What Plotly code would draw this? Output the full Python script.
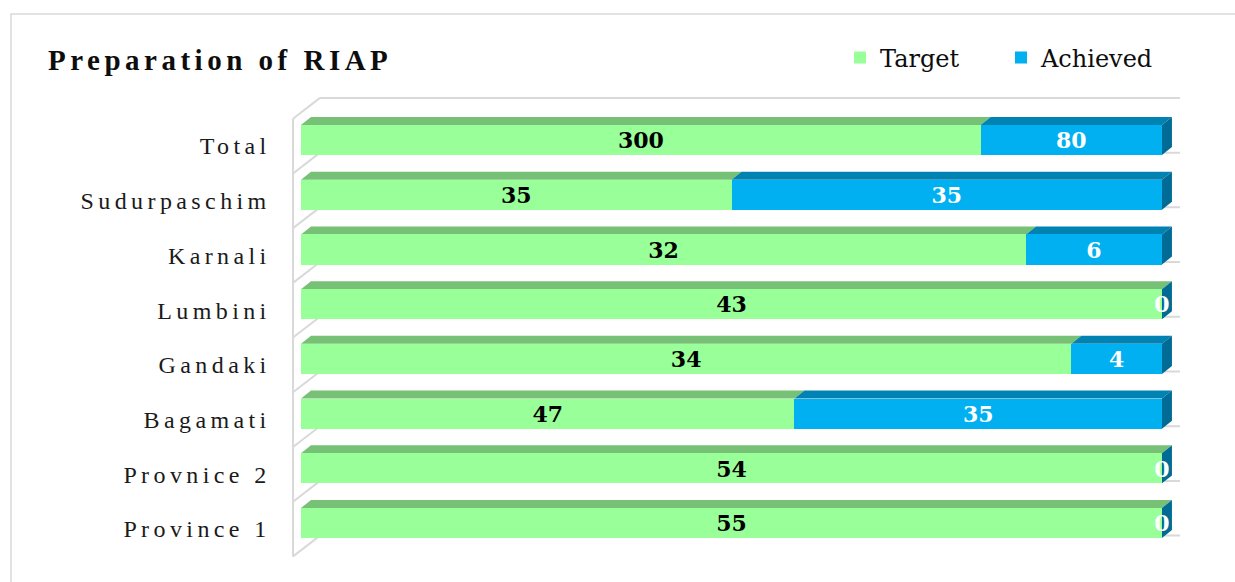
import plotly.graph_objects as go

# ---------------- data ----------------
categories = ["Province 1", "Provnice 2", "Bagamati", "Gandaki",
              "Lumbini", "Karnali", "Sudurpaschim", "Total"]
target = [55, 54, 47, 34, 43, 32, 35, 300]
achieved = [0, 0, 35, 4, 0, 6, 35, 80]
series_names = ["Target", "Achieved"]
title_text = "Preparation of RIAP"

# ---------------- styling ----------------
W, H = 1235, 582
GREEN, GREEN_TOP = "#99FF99", "#77C177"
BLUE, BLUE_TOP, BLUE_SIDE = "#00B0F0", "#0082B2", "#006C96"
WALL = "#D9D9D9"
BAR_W = 0.55
DX, DY = 1.16, 0.146          # 3-D depth offset (x in %, y in category units)
LABEL_DROP = 0.05             # small vertical nudge of data labels

# 100 % stacked shares computed from the values
totals = [t + a for t, a in zip(target, achieved)]
tgt_pct = [100 * t / s for t, s in zip(target, totals)]
ach_pct = [100 * a / s for a, s in zip(achieved, totals)]
ypos = list(range(len(categories)))

fig = go.Figure()
fig.add_trace(go.Bar(
    y=ypos, x=tgt_pct, orientation="h", width=BAR_W, name=series_names[0],
    marker=dict(color=GREEN, line=dict(width=0)), customdata=list(zip(categories, target)),
    textposition="none",
    hovertemplate="%{customdata[0]}<br>Target: %{customdata[1]}<extra></extra>"))
fig.add_trace(go.Bar(
    y=ypos, x=ach_pct, orientation="h", width=BAR_W, name=series_names[1],
    marker=dict(color=BLUE, line=dict(width=0)), customdata=list(zip(categories, achieved)),
    textposition="none",
    hovertemplate="%{customdata[0]}<br>Achieved: %{customdata[1]}<extra></extra>"))

# data labels
label_font = dict(family="DejaVu Serif", size=22, weight="bold")
label_y = [p - LABEL_DROP for p in ypos]
fig.add_trace(go.Scatter(
    x=[p / 2 for p in tgt_pct], y=label_y, mode="text", text=[str(v) for v in target],
    textfont=dict(color="#000000", **label_font), showlegend=False,
    hoverinfo="skip", cliponaxis=False))
fig.add_trace(go.Scatter(
    x=[t + a / 2 for t, a in zip(tgt_pct, ach_pct)], y=label_y, mode="text",
    text=[str(v) for v in achieved], textfont=dict(color="#FFFFFF", **label_font),
    showlegend=False, hoverinfo="skip", cliponaxis=False))

shapes = []
# chart border
shapes.append(dict(type="rect", xref="paper", yref="paper", x0=11 / W, x1=1.02,
                   y0=-0.02, y1=1 - 14 / H, line=dict(color=WALL, width=1.5),
                   layer="below"))
# walls: left wall, diagonals and back gridlines at category boundaries
n = len(categories)
wall_front_x, wall_back_x, grid_end_x = -0.93, 2.2, 102.1
front_off, back_off = -0.11, 0.27
shapes.append(dict(type="line", xref="x", yref="y", x0=wall_front_x, x1=wall_front_x,
                   y0=-0.5 + front_off, y1=n - 0.5 + front_off,
                   line=dict(color=WALL, width=2), layer="below"))
for k in range(n + 1):
    b = k - 0.5
    shapes.append(dict(type="line", xref="x", yref="y", x0=wall_front_x, x1=wall_back_x,
                       y0=b + front_off, y1=b + back_off,
                       line=dict(color=WALL, width=2), layer="below"))
    shapes.append(dict(type="line", xref="x", yref="y", x0=wall_back_x, x1=grid_end_x,
                       y0=b + back_off, y1=b + back_off,
                       line=dict(color=WALL, width=2), layer="below"))


def poly(pts):
    return "M " + " L ".join(f"{x},{y}" for x, y in pts) + " Z"


# 3-D top and side faces derived from the bar values
for i, (tp, ap) in enumerate(zip(tgt_pct, ach_pct)):
    yt = i + BAR_W / 2
    yb = i - BAR_W / 2
    shapes.append(dict(type="path", xref="x", yref="y", layer="below",
                       path=poly([(0, yt), (tp, yt), (tp + DX, yt + DY), (DX, yt + DY)]),
                       fillcolor=GREEN_TOP, line=dict(width=0)))
    end = tp + ap
    if ap > 0:
        shapes.append(dict(type="path", xref="x", yref="y", layer="below",
                           path=poly([(tp, yt), (end, yt), (end + DX, yt + DY), (tp + DX, yt + DY)]),
                           fillcolor=BLUE_TOP, line=dict(width=0)))
    shapes.append(dict(type="path", xref="x", yref="y", layer="below",
                       path=poly([(end, yb), (end, yt), (end + DX, yt + DY), (end + DX, yb + DY)]),
                       fillcolor=BLUE_SIDE, line=dict(width=0)))

tick_shift = 0.11
fig.update_layout(
    width=W, height=H, margin=dict(l=0, r=0, t=0, b=0),
    paper_bgcolor="white", plot_bgcolor="rgba(0,0,0,0)",
    barmode="stack", bargap=0.45, showlegend=True,
    title=dict(text=title_text, x=48 / W, xanchor="left", xref="paper",
               y=1 - 60 / H, yanchor="middle",
               font=dict(family="Liberation Serif", size=29, color="#0D0D0D", weight="bold")),
    legend=dict(orientation="h", x=840 / W, xanchor="left", y=1 - 58 / H, yanchor="middle",
                font=dict(family="DejaVu Serif", size=24, color="#0D0D0D"),
                entrywidth=116, entrywidthmode="pixels",
                bgcolor="rgba(0,0,0,0)", itemclick=False, traceorder="normal"),
    xaxis=dict(range=[-1.2, 104], domain=[290.7 / W, 1196.4 / W], showgrid=False,
               zeroline=False, showticklabels=False, showline=False, fixedrange=True),
    yaxis=dict(range=[-0.8, 7.9], domain=[1 - 566.8 / H, 1 - 90.8 / H], showgrid=False,
               zeroline=False, showline=False, ticks="",
               tickvals=[p - tick_shift for p in ypos], ticktext=categories,
               ticklabelstandoff=19,
               tickfont=dict(family="Liberation Serif", size=24, color="#1A1A1A"),
               fixedrange=True),
    shapes=shapes,
)

post = """
document.body.style.margin = '0';
var gd = document.getElementById('{plot_id}');
function spacing(){
  gd.querySelectorAll('.gtitle').forEach(function(e){ e.style.letterSpacing='4.5px'; });
  gd.querySelectorAll('.ytick text').forEach(function(e){ e.style.letterSpacing='4.4px'; });
}
spacing();
gd.on('plotly_afterplot', spacing);
"""
fig.write_html("out.html", post_script=post, config={"displayModeBar": False})
